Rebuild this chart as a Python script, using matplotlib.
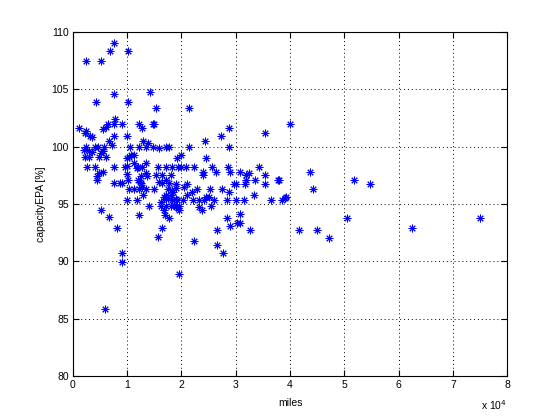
import matplotlib
matplotlib.use("Agg")
import matplotlib.pyplot as plt
import numpy as np

plt.rcParams["font.family"] = ["Liberation Sans", "DejaVu Sans"]

# miles in units of 1e4, capacity in %
miles_1e4 = [
    0.25, 0.51, 0.69, 0.75, 1.02,
    0.75, 1.43, 0.43, 1.02, 1.54, 2.13,
    0.78, 0.12, 0.25, 0.62, 0.65, 0.75, 0.90, 1.22, 1.27, 1.47, 1.50, 0.56, 0.75, 1.00, 1.30, 0.23, 0.32, 0.35, 0.67,
    2.87, 2.72, 2.44, 3.53, 3.99,
    0.25, 0.40, 0.47, 0.58, 0.73, 1.06, 1.22, 1.35, 1.47, 1.58, 1.72, 1.78, 2.13, 2.88, 1.38,
    0.20, 0.30, 0.36, 0.23, 0.29, 0.52, 0.55, 0.61, 0.49, 1.04, 1.08, 1.12, 1.00, 2.00, 1.91, 2.46,
    0.27, 0.40, 0.76, 0.97, 1.13, 1.19, 1.35, 1.56, 1.93, 2.00, 2.09, 2.24, 2.57, 2.85, 3.42, 1.00, 1.20, 1.28, 1.72, 1.82,
    0.49, 0.55, 0.45, 0.45, 1.81, 1.34, 1.37, 1.54, 1.58, 1.65, 1.72, 1.78, 2.39, 2.40, 2.64, 2.90, 3.08, 3.19, 3.25, 3.36,
    3.54, 3.77, 3.19, 4.36, 5.17, 3.80, 1.00, 1.20, 1.25, 1.65,
    0.75, 0.86, 0.90, 1.02, 1.24, 1.26, 1.28, 1.04, 1.13, 1.22, 1.35, 1.50, 1.90, 2.10, 2.29, 2.53, 2.74, 2.97, 3.00, 3.17,
    3.54, 4.42, 5.48, 1.83, 1.75, 1.85, 2.20, 2.88, 1.90, 2.05,
    1.30, 1.72, 1.75, 1.80, 2.11, 1.92, 2.02, 0.99, 1.19, 2.22, 2.33, 2.42, 2.46, 2.83, 3.00, 3.16, 3.33, 3.64, 3.86, 3.90,
    3.93, 1.68, 1.72, 1.62, 1.83, 1.90, 2.50, 2.60,
    1.41, 1.63, 1.72, 1.87, 1.96, 1.96, 2.33, 2.37, 2.55, 0.51, 1.93, 1.68, 1.90, 1.80,
    0.66, 1.22, 1.69, 2.83, 3.07, 3.03, 3.08, 2.90, 5.04, 7.49, 1.78,
    0.82, 1.65, 2.66, 3.27, 4.17, 4.50, 6.25, 1.56, 4.72, 2.24,
    2.66, 2.76, 0.91, 0.91, 1.96, 0.60,
]
capacity = [
    107.5, 107.5, 108.3, 109.0, 108.3,
    104.6, 104.8, 103.9, 103.9, 103.4, 103.4,
    102.4, 101.6, 101.4, 101.7, 102.0, 102.0, 102.0, 102.0, 101.6, 102.0, 102.0, 101.5, 100.9, 100.9, 100.5, 101.2, 100.9, 100.8, 100.5,
    101.6, 100.9, 100.5, 101.2, 102.0,
    100.0, 100.0, 100.0, 100.0, 100.1, 100.0, 100.0, 100.0, 100.0, 99.9, 100.0, 100.0, 100.0, 100.0, 100.3,
    99.7, 99.6, 99.5, 99.1, 99.1, 99.4, 99.6, 99.1, 99.1, 99.1, 99.3, 99.3, 99.0, 99.3, 99.0, 99.0,
    98.2, 98.2, 98.2, 98.2, 98.6, 98.1, 98.6, 98.2, 98.2, 98.2, 98.2, 98.2, 98.2, 98.2, 98.2, 98.3, 98.2, 98.2, 98.2, 98.2,
    97.7, 97.8, 97.1, 97.4, 97.5, 97.7, 97.4, 97.5, 96.9, 96.8, 97.1, 96.8, 97.8, 97.5, 97.8, 97.8, 97.8, 97.5, 97.7, 97.1,
    97.5, 97.1, 97.1, 97.8, 97.1, 97.1, 97.6, 97.1, 97.4, 97.5,
    96.8, 96.8, 96.8, 97.1, 96.9, 96.8, 96.5, 96.3, 96.3, 96.3, 96.3, 96.3, 96.7, 96.7, 96.3, 96.3, 96.3, 96.7, 96.7, 96.7,
    96.7, 96.3, 96.7, 96.2, 96.3, 96.0, 96.0, 96.0, 96.4, 96.5,
    95.8, 95.8, 95.5, 95.8, 95.8, 95.3, 95.3, 95.3, 95.3, 95.3, 95.3, 95.3, 95.6, 95.3, 95.3, 95.3, 95.8, 95.3, 95.3, 95.5,
    95.6, 95.6, 95.4, 95.2, 95.3, 95.4, 95.6, 95.3,
    94.8, 94.8, 94.8, 94.9, 94.8, 94.5, 94.7, 94.5, 94.8, 94.5, 94.6, 94.5, 94.7, 94.8,
    93.9, 94.0, 94.0, 93.8, 94.1, 93.3, 93.3, 93.1, 93.8, 93.8, 93.8,
    92.9, 92.9, 92.7, 92.7, 92.7, 92.7, 92.9, 92.1, 92.0, 91.8,
    91.4, 90.7, 90.7, 89.9, 88.9, 85.8,
]
x_ticks = [0, 1, 2, 3, 4, 5, 6, 7, 8]
y_ticks = [80, 85, 90, 95, 100, 105, 110]

miles = np.array(miles_1e4) * 1e4

fig = plt.figure(figsize=(5.6, 4.2), dpi=100)
ax = fig.add_axes([0.13, 0.105, 0.776, 0.819])
# MATLAB-style asterisk: 8 spokes
ax.plot(miles, capacity, linestyle="none", marker=(8, 2, 0), color="#0000ff",
        markersize=5.5, markeredgewidth=0.7)

ax.set_xlim(0, 8e4)
ax.set_ylim(80, 110)
ax.set_xticks(np.array(x_ticks) * 1e4)
ax.set_xticklabels([str(t) for t in x_ticks])
ax.set_yticks(y_ticks)
ax.set_yticklabels([str(t) for t in y_ticks])
ax.tick_params(direction="in", top=True, right=True, labelsize=7.5, length=4, pad=3)
ax.grid(True, color="black", linestyle=(0, (1, 3)), linewidth=0.7)
for s in ax.spines.values():
    s.set_linewidth(0.8)

ax.set_xlabel("miles", fontsize=7.5, labelpad=6)
ax.set_ylabel("capacityEPA [%]", fontsize=7.5, labelpad=4)
ax.text(1.0, -0.065, "x 10$^4$", transform=ax.transAxes, ha="right", va="top", fontsize=7.5)

fig.savefig("out.png", dpi=100)
